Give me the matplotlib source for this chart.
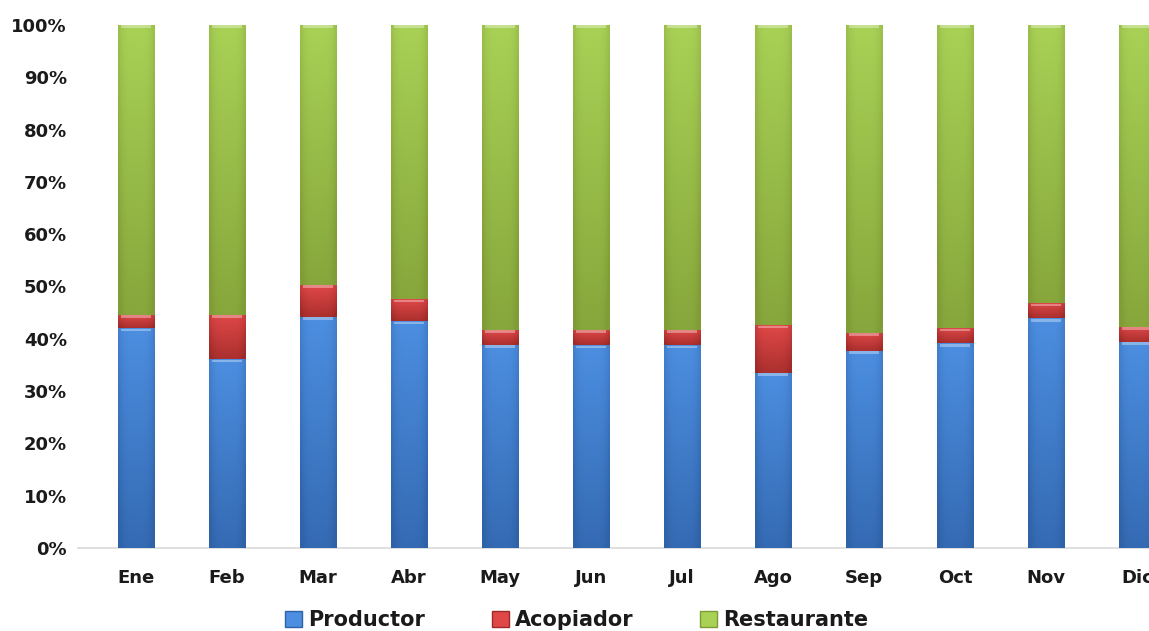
import matplotlib
matplotlib.use("Agg")
import matplotlib.pyplot as plt
import numpy as np
from matplotlib.colors import LinearSegmentedColormap
from matplotlib.patches import Patch

months = ["Ene", "Feb", "Mar", "Abr", "May", "Jun", "Jul", "Ago", "Sep", "Oct", "Nov", "Dic"]
productor = [42.0, 36.1, 44.2, 43.4, 38.9, 38.8, 38.8, 33.5, 37.7, 39.1, 43.9, 39.4]
acopiador = [2.6, 8.5, 6.1, 4.2, 2.8, 2.9, 2.9, 9.1, 3.5, 2.9, 2.9, 2.9]
restaurante = [100 - p - a for p, a in zip(productor, acopiador)]

series = [("Productor", productor), ("Acopiador", acopiador), ("Restaurante", restaurante)]
# light top / dark bottom of each segment, like the old excel gradient
shades = {
    "Productor": ("#4c8ee0", "#2f62a8"),
    "Acopiador": ("#e04848", "#9e2a28"),
    "Restaurante": ("#a8d155", "#7f9c36"),
}

plt.rcParams['font.family'] = ['DejaVu Sans']
fig = plt.figure(figsize=(11.49, 6.31), dpi=100)
ax = fig.add_axes([0.0679, 0.1315, 0.932, 0.829])

x = np.arange(len(months))
bottom = np.zeros(len(months))
for name, vals in series:
    vals = np.array(vals) / 100
    bars = ax.bar(x, vals, 0.4, bottom=bottom, color=shades[name][0],
                  edgecolor="#9a9a9a", linewidth=0.6, zorder=2)
    cmap = LinearSegmentedColormap.from_list(name, [shades[name][1], shades[name][0]])
    grad = np.linspace(0, 1, 64).reshape(-1, 1)
    side = np.abs(np.linspace(-1, 1, 32))
    for b in bars:
        x0, y0 = b.get_x(), b.get_y()
        w, h = b.get_width(), b.get_height()
        img = grad * 0.8 + 0.2 - (side ** 4) * 0.35
        im = ax.imshow(img, cmap=cmap, vmin=0, vmax=1, aspect="auto", origin="lower",
                       extent=[x0, x0 + w, y0, y0 + h], zorder=3, interpolation="bilinear")
        im.set_clip_path(b)
        # light bevel on the top of each piece
        ax.fill_between([x0 + w * 0.08, x0 + w * 0.92], y0 + h - 0.006, y0 + h - 0.001,
                        color="white", alpha=0.35, lw=0, zorder=4)
    bottom += vals

ax.set_xlim(-0.637, 11.13)
ax.set_ylim(0, 1)
ax.set_yticks(np.arange(0, 1.01, 0.1))
ax.set_yticklabels([f"{int(round(v * 100))}%" for v in np.arange(0, 1.01, 0.1)],
                   fontsize=13, fontweight="bold", color="#1a1a1a")
ax.set_xticks(x)
ax.set_xticklabels(months, fontsize=13, fontweight="bold", color="#1a1a1a")
ax.tick_params(axis="x", length=0, pad=15)
ax.tick_params(axis="y", length=0, pad=8)
for s in ["top", "right", "left"]:
    ax.spines[s].set_visible(False)
ax.spines["bottom"].set_color("#d9d9d9")
ax.spines["bottom"].set_linewidth(1.2)

handles = [Patch(facecolor=shades[n][0], edgecolor=shades[n][1], label=n) for n, _ in series]
fig.legend(handles=handles, loc="center", bbox_to_anchor=(0.502, 0.017), ncol=3,
           frameon=False, prop={"size": 15, "weight": "bold"},
           handlelength=0.8, handleheight=0.8, handletextpad=0.3, columnspacing=3.2,
           labelcolor="#1a1a1a")

fig.savefig("out.png", dpi=100)
